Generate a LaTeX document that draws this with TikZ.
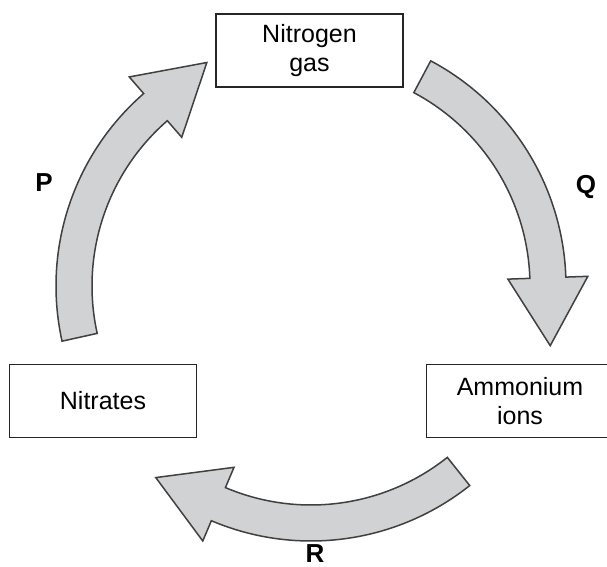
\documentclass[tikz,border=0pt]{standalone}
\usepackage{fontspec}
\setmainfont{Liberation Sans}
\usepackage{tikz}
\usetikzlibrary{calc}
\definecolor{cyclegray}{RGB}{209,210,212}
\tikzstyle{cyclearrow} = [draw=black!75, fill=cyclegray, line width=0.75pt, line join=miter]

\begin{document}
\begin{tikzpicture}[
  x=1pt, y=1pt,
  every node/.style={font=\fontsize{12.5}{14.5}\selectfont},
  stage/.style={rectangle, draw=black!85, line width=0.9pt, minimum width=93.5pt, minimum height=36.5pt, inner sep=0pt, align=center},
  letter/.style={font=\fontsize{13}{15}\selectfont\bfseries}
]
\useasboundingbox (-155.5,-140.5) rectangle (148,143);

% Stages of the cycle
\node[stage] (nitrogen) at (-0.75,117.75) {Nitrogen\\gas};
\node[stage] (ammonium) at (104.5,-57.5) {Ammonium\\ions};
\node[stage] (nitrates) at (-104,-57.5) {Nitrates};

% Curved block arrows (centre of the cycle at the origin)
\draw[cyclearrow] (192.5:127.5) arc[start angle=192.5, end angle=131, radius=127.5]
  -- (131:138.5) -- ($(131:118.5)+(41:34)$) -- (131:98.5)
  -- (131:109.5) arc[start angle=131, end angle=192.5, radius=109.5] -- cycle;
\draw[cyclearrow] (62:127.5) arc[start angle=62, end angle=2, radius=127.5]
  -- (2:138.5) -- ($(2:118.5)+(-88:34)$) -- (2:98.5)
  -- (2:109.5) arc[start angle=2, end angle=62, radius=109.5] -- cycle;
\draw[cyclearrow] (-51.5:127.5) arc[start angle=-51.5, end angle=-113, radius=127.5]
  -- (-113:138.5) -- ($(-113:118.5)+(-203:34)$) -- (-113:98.5)
  -- (-113:109.5) arc[start angle=-113, end angle=-51.5, radius=109.5] -- cycle;

% Process labels
\node[letter] (p) at (-133.5,51.5) {P};
\node[letter] (q) at (137.5,49.5) {Q};
\node[letter] (r) at (2,-134) {R};

\end{tikzpicture}
\end{document}
